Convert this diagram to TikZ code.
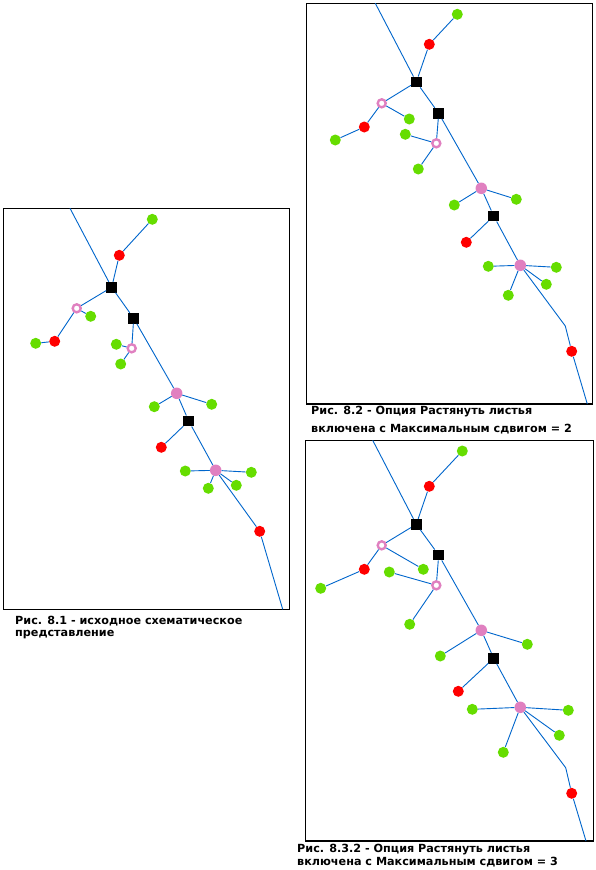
\documentclass[tikz,border=0pt]{standalone}
\usepackage{fontspec}
\setmainfont{DejaVu Sans}
\definecolor{edgeblue}{HTML}{0066CC}
\definecolor{leafgreen}{HTML}{66DD00}
\definecolor{nodered}{HTML}{FF0000}
\definecolor{nodepink}{HTML}{E080C0}
\begin{document}
\begin{tikzpicture}[x=1pt,y=-1pt,
  frame/.style={draw=black,line width=1.1pt},
  sq/.style={rectangle,fill=black,minimum size=10.5pt,inner sep=0pt},
  gr/.style={circle,fill=leafgreen,minimum size=11pt,inner sep=0pt},
  rd/.style={circle,fill=nodered,minimum size=11pt,inner sep=0pt},
  pk/.style={circle,fill=nodepink,minimum size=11.5pt,inner sep=0pt},
  pko/.style={circle,draw=nodepink,line width=2.4pt,fill=white,minimum size=8pt,inner sep=0pt},
  ln/.style={draw=edgeblue,line width=0.9pt},
  captxt/.style={anchor=west,inner sep=0pt,font=\fontsize{11.2}{13}\bfseries}]
\useasboundingbox (0,0) rectangle (596,870);
\fill[white] (0,0) rectangle (596,870);

% ---------------- Panel 1 ----------------
\draw[frame] (3.3,208.3) rectangle (289.3,609.3);
\coordinate (aT) at (70,208.3);
\coordinate (aB) at (282.7,609.3);
\node[sq] (aS1) at (111.7,287.3) {};
\node[rd] (aR1) at (119.3,255.3) {};
\node[gr] (aG1) at (152.3,219.3) {};
\node[pko] (aP1) at (76.7,308.3) {};
\node[gr] (aG2) at (90.7,316.3) {};
\node[rd] (aR2) at (54.7,341.3) {};
\node[gr] (aG3) at (35.7,343.3) {};
\node[sq] (aS2) at (133.7,318.3) {};
\node[pko] (aP2) at (131.7,348.3) {};
\node[gr] (aG4) at (116.3,344.3) {};
\node[gr] (aG5) at (120.7,364) {};
\node[pk] (aP3) at (176.7,393.3) {};
\node[gr] (aG6) at (154.3,406.7) {};
\node[gr] (aG7) at (211.7,404.3) {};
\node[sq] (aS3) at (188.7,421) {};
\node[rd] (aR3) at (161.3,447.3) {};
\node[pk] (aP4) at (215.7,470.3) {};
\node[gr] (aG8) at (185.3,471) {};
\node[gr] (aG9) at (251.3,472.3) {};
\node[gr] (aG10) at (208.3,488.3) {};
\node[gr] (aG11) at (236.3,485.3) {};
\node[rd] (aR4) at (259.7,531.3) {};
\draw[ln] (aT) -- (aS1);
\draw[ln] (aS1) -- (aR1) -- (aG1);
\draw[ln] (aS1) -- (aP1) -- (aG2);
\draw[ln] (aP1) -- (aR2) -- (aG3);
\draw[ln] (aS1) -- (aS2) -- (aP2) -- (aG4);
\draw[ln] (aP2) -- (aG5);
\draw[ln] (aS2) -- (aP3) -- (aG6);
\draw[ln] (aP3) -- (aG7);
\draw[ln] (aP3) -- (aS3) -- (aR3);
\draw[ln] (aS3) -- (aP4) -- (aG8);
\draw[ln] (aP4) -- (aG9);
\draw[ln] (aP4) -- (aG10);
\draw[ln] (aP4) -- (aG11);
\draw[ln] (aP4) -- (aR4) -- (aB);
\node[captxt] (aC1) at (15,621) {Рис. 8.1 - исходное схематическое};
\node[captxt] (aC2) at (15,634.3) {представление};

% ---------------- Panel 2 ----------------
\draw[frame] (306.7,3.3) rectangle (592.7,404);
\coordinate (bT) at (375.3,3.3);
\coordinate (bK) at (565.3,326);
\coordinate (bB) at (587.3,404);
\node[sq] (bS1) at (416.3,82) {};
\node[rd] (bR1) at (429.3,44.3) {};
\node[gr] (bG1) at (457.3,14.3) {};
\node[pko] (bP1) at (381.7,103.3) {};
\node[gr] (bG2) at (409.3,119) {};
\node[rd] (bR2) at (364.3,127) {};
\node[gr] (bG3) at (335.3,140) {};
\node[sq] (bS2) at (438.7,113.3) {};
\node[pko] (bP2) at (436.3,143.3) {};
\node[gr] (bG4) at (405.3,134.3) {};
\node[gr] (bG5) at (418.3,169) {};
\node[pk] (bP3) at (481.3,188.3) {};
\node[gr] (bG6) at (454.3,205) {};
\node[gr] (bG7) at (516.3,199.3) {};
\node[sq] (bS3) at (493.7,216) {};
\node[rd] (bR3) at (466.3,242.3) {};
\node[pk] (bP4) at (520.3,265.3) {};
\node[gr] (bG8) at (488.3,266.3) {};
\node[gr] (bG9) at (556.3,267.3) {};
\node[gr] (bG10) at (508.3,295.3) {};
\node[gr] (bG11) at (546.3,284.3) {};
\node[rd] (bR4) at (571.7,351.3) {};
\draw[ln] (bT) -- (bS1);
\draw[ln] (bS1) -- (bR1) -- (bG1);
\draw[ln] (bS1) -- (bP1) -- (bG2);
\draw[ln] (bP1) -- (bR2) -- (bG3);
\draw[ln] (bS1) -- (bS2) -- (bP2) -- (bG4);
\draw[ln] (bP2) -- (bG5);
\draw[ln] (bS2) -- (bP3) -- (bG6);
\draw[ln] (bP3) -- (bG7);
\draw[ln] (bP3) -- (bS3) -- (bR3);
\draw[ln] (bS3) -- (bP4) -- (bG8);
\draw[ln] (bP4) -- (bG9);
\draw[ln] (bP4) -- (bG10);
\draw[ln] (bP4) -- (bG11);
\draw[ln] (bP4) -- (bK) -- (bR4) -- (bB);
\node[captxt] (bC1) at (311,412) {Рис. 8.2 - Опция Растянуть листья};
\node[captxt] (bC2) at (311,428.7) {включена с Максимальным сдвигом = 2};

% ---------------- Panel 3 ----------------
\draw[frame] (305.3,440.3) rectangle (593.3,841);
\coordinate (cT) at (372.7,440.3);
\coordinate (cK) at (565.7,767.7);
\coordinate (cB) at (586,841);
\node[sq] (cS1) at (416.3,524.3) {};
\node[rd] (cR1) at (429.3,486.3) {};
\node[gr] (cG1) at (462.3,451) {};
\node[pko] (cP1) at (381.7,545.3) {};
\node[gr] (cG2) at (423.3,569.3) {};
\node[rd] (cR2) at (364.3,569.3) {};
\node[gr] (cG3) at (320.7,588.3) {};
\node[sq] (cS2) at (438.7,555) {};
\node[pko] (cP2) at (436.3,585.3) {};
\node[gr] (cG4) at (389.3,572) {};
\node[gr] (cG5) at (409.7,624.3) {};
\node[pk] (cP3) at (481.3,630.3) {};
\node[gr] (cG6) at (440.3,656) {};
\node[gr] (cG7) at (527.3,644.3) {};
\node[sq] (cS3) at (493.7,658.3) {};
\node[rd] (cR3) at (458.3,691.3) {};
\node[pk] (cP4) at (520.3,707.3) {};
\node[gr] (cG8) at (472.3,709.3) {};
\node[gr] (cG9) at (568.3,710.3) {};
\node[gr] (cG10) at (503.3,752.3) {};
\node[gr] (cG11) at (559.3,735.3) {};
\node[rd] (cR4) at (571.7,793.3) {};
\draw[ln] (cT) -- (cS1);
\draw[ln] (cS1) -- (cR1) -- (cG1);
\draw[ln] (cS1) -- (cP1) -- (cG2);
\draw[ln] (cP1) -- (cR2) -- (cG3);
\draw[ln] (cS1) -- (cS2) -- (cP2) -- (cG4);
\draw[ln] (cP2) -- (cG5);
\draw[ln] (cS2) -- (cP3) -- (cG6);
\draw[ln] (cP3) -- (cG7);
\draw[ln] (cP3) -- (cS3) -- (cR3);
\draw[ln] (cS3) -- (cP4) -- (cG8);
\draw[ln] (cP4) -- (cG9);
\draw[ln] (cP4) -- (cG10);
\draw[ln] (cP4) -- (cG11);
\draw[ln] (cP4) -- (cK) -- (cR4) -- (cB);
\node[captxt] (cC1) at (297,850) {Рис. 8.3.2 - Опция Растянуть листья};
\node[captxt] (cC2) at (297,862) {включена с Максимальным сдвигом = 3};
\end{tikzpicture}
\end{document}
